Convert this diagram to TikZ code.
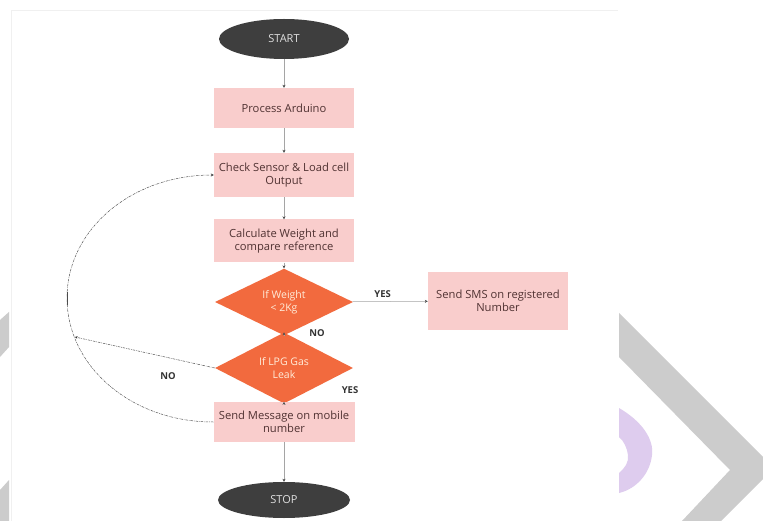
\documentclass[tikz,border=0pt]{standalone}
\usepackage{fontspec}
\setmainfont{Open Sans}
\usetikzlibrary{shapes.geometric,arrows.meta}
\definecolor{boxpink}{RGB}{249,205,204}
\definecolor{dorange}{RGB}{242,106,62}
\definecolor{ovalgray}{RGB}{62,62,62}
\definecolor{txtdark}{RGB}{80,50,50}
\definecolor{wmgray}{RGB}{204,204,204}
\definecolor{wmpurple}{RGB}{222,204,238}
\definecolor{pageline}{RGB}{240,240,240}
\definecolor{linegray}{RGB}{165,165,165}
\definecolor{loopgray}{RGB}{85,85,85}
\tikzset{
  oval/.style={ellipse, fill=ovalgray, text=white!88!black, minimum width=130pt, minimum height=40pt, inner sep=0pt, font=\fontsize{11}{12}\selectfont},
  procbox/.style={rectangle, fill=boxpink, text=txtdark, minimum width=140pt, inner sep=0pt, align=center, font=\fontsize{11.2}{13.5}\selectfont},
  decision/.style={diamond, fill=dorange, text=white!85!orange, inner sep=0pt, align=center, font=\fontsize{10.5}{13}\selectfont},
  conn/.style={draw=linegray, line width=0.5pt, -{Stealth[length=3pt,width=3pt,color=black!70]}},
  loopline/.style={draw=loopgray, line width=0.5pt, dash pattern=on 2.5pt off 1pt on 0.6pt off 1pt},
  lbl/.style={font=\bfseries\fontsize{9.5}{11}\selectfont, text=black!80},
}
\begin{document}
\begin{tikzpicture}[x=1pt,y=-1pt]
\useasboundingbox (0,0) rectangle (763,521);
\fill[white] (0,0) rectangle (763,521);
% watermark
\begin{scope}
\clip (0,0) rectangle (763,521);
\fill[wmgray] (619,313) -- (774,468) -- (721,521) -- (682,521) -- (730,470) -- (619,357) -- cycle;
\fill[wmpurple] (619,408) .. controls (643,422) and (654,440) .. (652,455)
  .. controls (650,474) and (636,489) .. (619,493) -- (619,473)
  .. controls (625,468) and (629,462) .. (628,455)
  .. controls (627,448) and (624,441) .. (619,437) -- cycle;
\fill[wmgray] (0,320) -- (9,312) -- (9,347) -- (0,357) -- cycle;
\fill[wmgray] (0,490) -- (9,480) -- (9,521) -- (0,521) -- cycle;
\end{scope}
\draw[pageline, line width=0.6pt] (11,521) -- (11,10) -- (618,10);
% nodes
\node[oval] (start) at (284,39) {START};
\node[procbox, minimum height=40pt] (p1) at (284,108) {Process Arduino};
\node[procbox, minimum height=44pt] (check) at (284,175) {Check Sensor \& Load cell\\Output};
\node[procbox, minimum height=43pt] (calc) at (284,241) {Calculate Weight and\\compare reference};
\node[decision, minimum width=138pt, minimum height=50pt] (d1) at (284,302) {If Weight\\< 2Kg};
\node[procbox, minimum height=58pt] (sms) at (498,301) {Send SMS on registered\\Number};
\node[decision, minimum width=138pt, minimum height=44pt] (d2) at (284,368) {If LPG Gas\\Leak};
\node[procbox, minimum width=141pt, minimum height=40pt] (send) at (284,422) {Send Message on mobile\\number};
\node[oval, minimum width=132pt, minimum height=36pt] (stop) at (284,500) {STOP};
% connectors
\draw[conn] (start) -- (p1);
\draw[conn] (p1) -- (check);
\draw[conn] (check) -- (calc);
\draw[conn] (calc) -- (d1);
\draw[conn] (d1) -- node[lbl, above, pos=0.4] {YES} (sms);
\draw[conn] (d1) -- (d2);
\node[lbl] (nolbl) at (317,333) {NO};
\draw[conn] (d2) -- (send);
\node[lbl] (yeslbl) at (350,390) {YES};
\draw[conn] (send) -- (stop);
% loop back
\coordinate (L) at (67,298);
\coordinate (J) at (75,337);
\draw[loopline, -{Stealth[length=3pt,width=3pt,color=black!70]}] (send.west) .. controls (131,422) and (67,366) .. (L)
  .. controls (67,230) and (131,175) .. (check.west);
\draw[black!70, line width=0.9pt] (67,292) -- (67,305);
\draw[loopline, -{Stealth[length=2.5pt,width=2.5pt,color=black!80]}] (d2.west) -- (J);
\node[lbl] (nolbl2) at (168,376) {NO};
\end{tikzpicture}
\end{document}
